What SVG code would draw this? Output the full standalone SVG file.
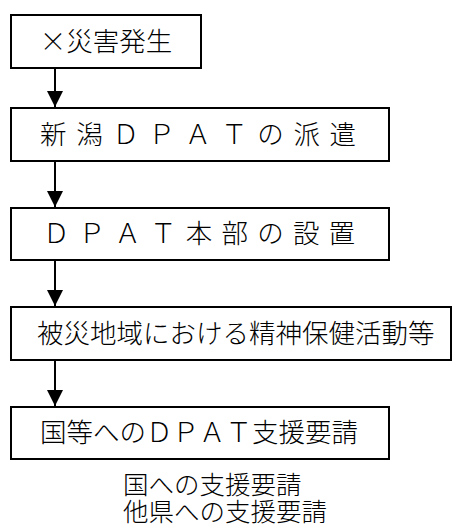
<svg xmlns="http://www.w3.org/2000/svg" width="460" height="530" viewBox="0 0 460 530">
<style>
.box{fill:#fff;stroke:#000;stroke-width:2}
.t{font-family:"Noto Sans CJK JP","Noto Sans CJK SC",sans-serif;font-size:26.5px;font-weight:300;fill:#000}
.n{font-size:25.5px}
.c{stroke:#000;stroke-width:2;fill:none}
</style>
<defs>
<marker id="ah" markerUnits="userSpaceOnUse" markerWidth="18" markerHeight="16" refX="16" refY="8" orient="auto">
<path d="M0,0 L16,8 L0,16 Z" fill="#000"/>
</marker>
</defs>
<rect width="460" height="530" fill="#fff"/>
<g id="connectors">
<line class="c" x1="55" y1="68" x2="55" y2="107" marker-end="url(#ah)"/>
<line class="c" x1="55" y1="161" x2="55" y2="207" marker-end="url(#ah)"/>
<line class="c" x1="55" y1="260" x2="55" y2="306" marker-end="url(#ah)"/>
<line class="c" x1="55" y1="360" x2="55" y2="406" marker-end="url(#ah)"/>
</g>
<g id="n1">
<rect class="box" x="11" y="15" width="190" height="53"/>
<text class="t" x="106" y="51" text-anchor="middle">×災害発生</text>
</g>
<g id="n2">
<rect class="box" x="11" y="108" width="378" height="53"/>
<text class="t" x="40" y="144" letter-spacing="9.7">新潟ＤＰＡＴの派遣</text>
</g>
<g id="n3">
<rect class="box" x="11" y="208" width="378" height="52"/>
<text class="t" x="43" y="243" letter-spacing="9.2">ＤＰＡＴ本部の設置</text>
</g>
<g id="n4">
<rect class="box" x="11" y="307" width="440" height="53"/>
<text class="t" x="37" y="343">被災地域における精神保健活動等</text>
</g>
<g id="n5">
<rect class="box" x="11" y="407" width="378" height="52"/>
<text class="t" x="40" y="442">国等へのＤＰＡＴ支援要請</text>
</g>
<g id="notes">
<text class="t n" x="123" y="494">国への支援要請</text>
<text class="t n" x="123" y="521">他県への支援要請</text>
</g>
</svg>
